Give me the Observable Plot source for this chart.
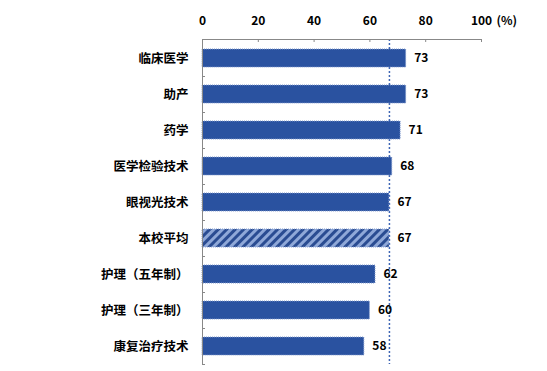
<!DOCTYPE html>
<html>
<head>
<meta charset="utf-8">
<script src="https://cdn.jsdelivr.net/npm/d3@7"></script>
<script src="https://cdn.jsdelivr.net/npm/@observablehq/plot@0.6"></script>
<style>
  html, body { margin: 0; padding: 0; background: #fff; }
</style>
</head>
<body>
<div id="chart"></div>
<script>
const categories = ["临床医学", "助产", "药学", "医学检验技术", "眼视光技术", "本校平均", "护理（五年制）", "护理（三年制）", "康复治疗技术"];
const values = [73, 73, 71, 68, 67, 67, 62, 60, 58];
const averageLabel = "本校平均";
const averageValue = 67;
const xTicks = [0, 20, 40, 60, 80, 100];
const unitLabel = "(%)";

const data = categories.map((c, i) => ({category: c, value: values[i]}));

const W = 547, H = 371;
const mL = 202, mR = 66, mT = 39, mB = 7;
const frameW = W - mL - mR, frameH = H - mT - mB;

const plot = Plot.plot({
  width: W,
  height: H,
  marginLeft: mL,
  marginRight: mR,
  marginTop: mT,
  marginBottom: mB,
  style: {fontFamily: "'Noto Sans CJK SC', sans-serif", fontSize: "12px", fontWeight: "bold", color: "#000", background: "#fff"},
  x: {domain: [0, 100], label: null},
  y: {domain: categories, paddingInner: 0.5, paddingOuter: 0.25, axis: null, label: null},
  marks: [
    Plot.ruleX([averageValue], {stroke: "#3f66b5", strokeWidth: 1.5, strokeDasharray: "2,2"}),
    Plot.barX(data.filter(d => d.category !== averageLabel), {x: "value", y: "category", fill: "#2a52a0", stroke: "#7f98cc", strokeWidth: 1, strokeDasharray: "1,1"}),
    Plot.barX(data.filter(d => d.category === averageLabel), {x: "value", y: "category", fill: "url(#hatch)", stroke: "#7f98cc", strokeWidth: 1, strokeDasharray: "1,1"}),
    Plot.ruleX([0], {stroke: "#888", strokeWidth: 1}),
    Plot.frame({anchor: "top", stroke: "#888", strokeWidth: 1}),
    Plot.tickX(xTicks, {x: d => d, stroke: "#888", insetBottom: frameH - 3}),
    Plot.tickY(categories, {y: d => d, dy: 18, stroke: "#888", insetRight: frameW - 3}),
    Plot.axisX(xTicks, {anchor: "top", label: null, tickSize: 0, tickPadding: 15, tickFormat: d => String(d), fontSize: 12, fontWeight: "bold"}),
    Plot.text([unitLabel], {x: 100, frameAnchor: "top", lineAnchor: "middle", dy: -18, dx: 15, textAnchor: "start", fontSize: 12, fontWeight: "bold"}),
    Plot.axisY(categories, {anchor: "left", label: null, tickSize: 0, tickPadding: 14, fontSize: 12.5, fontWeight: "bold"}),
    Plot.text(data, {x: "value", y: "category", text: d => String(d.value), textAnchor: "start", dx: 8, fontSize: 12, fontWeight: "bold", fill: "#000"})
  ]
});

const svg = d3.select(plot);
const defs = svg.insert("defs", ":first-child");
const pat = defs.append("pattern")
  .attr("id", "hatch")
  .attr("patternUnits", "userSpaceOnUse")
  .attr("width", 6)
  .attr("height", 6)
  .attr("patternTransform", "rotate(45)");
pat.append("rect").attr("width", 6).attr("height", 6).attr("fill", "#2a4c92");
pat.append("rect").attr("width", 3).attr("height", 6).attr("fill", "#8fa8d8");

document.getElementById("chart").appendChild(plot);
</script>
</body>
</html>
